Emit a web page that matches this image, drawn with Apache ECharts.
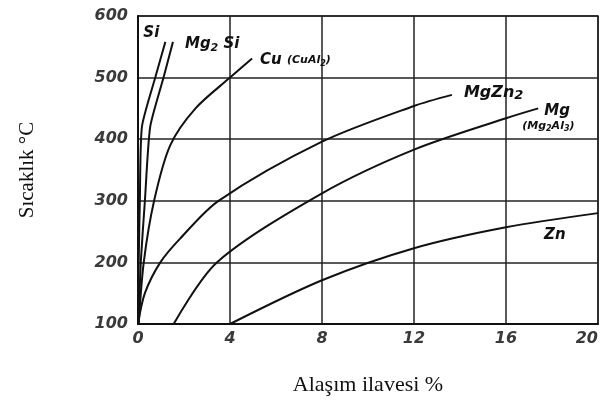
<!DOCTYPE html>
<html>
<head>
<meta charset="utf-8">
<script src="https://cdn.jsdelivr.net/npm/echarts@6/dist/echarts.min.js"></script>
<style>
  html, body { margin: 0; padding: 0; background: #fff; }
  #chart { width: 600px; height: 410px; }
</style>
</head>
<body>
<div id="chart"></div>
<script>
// Solubility limits in aluminium: alloy addition (%) vs temperature (°C)
const xTicks = [0, 4, 8, 12, 16, 20];
const yTicks = [100, 200, 300, 400, 500, 600];

const siCurve    = [[0, 100], [0.03, 200], [0.08, 300], [0.17, 420], [0.75, 500], [1.19, 558]];
const mg2siCurve = [[0.02, 100], [0.12, 200], [0.3, 300], [0.53, 420], [1.11, 500], [1.52, 558]];
const cuCurve    = [[0.03, 100], [0.25, 200], [0.7, 300], [1.4, 390], [2.5, 450], [4.0, 500], [4.96, 531]];
const mgzn2Curve = [[0, 100], [0.3, 150], [0.97, 200], [1.84, 239], [3.5, 300], [8, 396], [12, 454], [13.65, 472]];
const mgCurve    = [[1.55, 100], [3.43, 200], [8, 312], [12, 383], [16, 434], [17.4, 450]];
const znCurve    = [[4, 100], [8, 171], [12, 223], [16, 257], [20, 280]];

const tickFont = {
  color: '#3a3a3a',
  fontFamily: 'DejaVu Sans',
  fontStyle: 'italic',
  fontWeight: 'bold',
  fontSize: 16
};

const curveLabel = {
  color: '#111',
  fontFamily: 'DejaVu Sans',
  fontStyle: 'italic',
  fontWeight: 'bold',
  fontSize: 15
};

function curve(name, data, label, smooth) {
  return {
    name: name,
    type: 'line',
    data: data,
    smooth: smooth === undefined ? 0.3 : smooth,
    showSymbol: false,
    symbol: 'none',
    lineStyle: { color: '#111', width: 2 },
    endLabel: Object.assign({ show: true }, curveLabel, label),
    labelLayout: { hideOverlap: false },
    z: 5
  };
}

const chart = echarts.init(document.getElementById('chart'), null, { renderer: 'canvas' });

chart.setOption({
  backgroundColor: '#fff',
  animation: false,
  grid: {
    left: 138, right: 2, top: 16, bottom: 86,
    containLabel: false,
    outerBoundsMode: 'none',
    show: true, borderColor: '#222', borderWidth: 1.5
  },
  xAxis: {
    type: 'value',
    min: xTicks[0], max: xTicks[xTicks.length - 1], interval: 4,
    name: 'Alaşım ilavesi %',
    nameLocation: 'middle',
    nameGap: 50,
    nameTextStyle: { fontFamily: 'Liberation Serif', fontSize: 22, color: '#111' },
    axisLine: { show: true, lineStyle: { color: '#111', width: 2 } },
    axisTick: { show: false },
    axisLabel: Object.assign({ margin: 7, showMaxLabel: true, alignMaxLabel: 'right' }, tickFont),
    splitLine: { show: true, lineStyle: { color: '#222', width: 1.5 } }
  },
  yAxis: {
    type: 'value',
    min: yTicks[0], max: yTicks[yTicks.length - 1], interval: 100,
    name: 'Sıcaklık °C',
    nameLocation: 'middle',
    nameGap: 100,
    nameRotate: 90,
    nameTextStyle: { fontFamily: 'Liberation Serif', fontSize: 21, color: '#111' },
    axisLine: { show: true, lineStyle: { color: '#111', width: 2 } },
    axisTick: { show: false },
    axisLabel: Object.assign({ margin: 10 }, tickFont),
    splitLine: { show: true, lineStyle: { color: '#222', width: 1.5 } }
  },
  series: [
    curve('Si', siCurve, { formatter: 'Si', offset: [-30, -9] }, 0.2),
    curve('Mg₂Si', mg2siCurve, {
      formatter: '{a|Mg}{s|2} {a|Si}', offset: [4, 2],
      rich: {
        a: Object.assign({}, curveLabel),
        s: Object.assign({}, curveLabel, { fontSize: 11, padding: [8, 0, 0, 0] })
      }
    }, 0.2),
    curve('Cu', cuCurve, {
      formatter: '{a|Cu} {b|(CuAl}{s|2}{b|)}', offset: [0, 2],
      rich: {
        a: Object.assign({}, curveLabel),
        b: { color: '#111', fontFamily: 'DejaVu Sans', fontWeight: 'bold', fontSize: 11 },
        s: { color: '#111', fontFamily: 'DejaVu Sans', fontWeight: 'bold', fontSize: 8, padding: [6, 0, 0, 0] }
      }
    }),
    curve('MgZn₂', mgzn2Curve, {
      formatter: '{a|MgZn}{s|2}', offset: [4, -2],
      rich: {
        a: Object.assign({}, curveLabel, { fontSize: 16 }),
        s: Object.assign({}, curveLabel, { fontSize: 13, padding: [6, 0, 0, 0] })
      }
    }),
    curve('Mg', mgCurve, {
      formatter: '{a|Mg}\n{b|(Mg}{s|2}{b|Al}{s|3}{b|)}', offset: [-24, 10], align: 'left',
      rich: {
        a: Object.assign({}, curveLabel, { padding: [0, 0, 0, 22] }),
        b: { color: '#111', fontFamily: 'DejaVu Sans', fontWeight: 'bold', fontSize: 11 },
        s: { color: '#111', fontFamily: 'DejaVu Sans', fontWeight: 'bold', fontSize: 8, padding: [6, 0, 0, 0] }
      }
    }),
    curve('Zn', znCurve, { formatter: 'Zn', offset: [-62, 22] })
  ]
});
</script>
</body>
</html>
